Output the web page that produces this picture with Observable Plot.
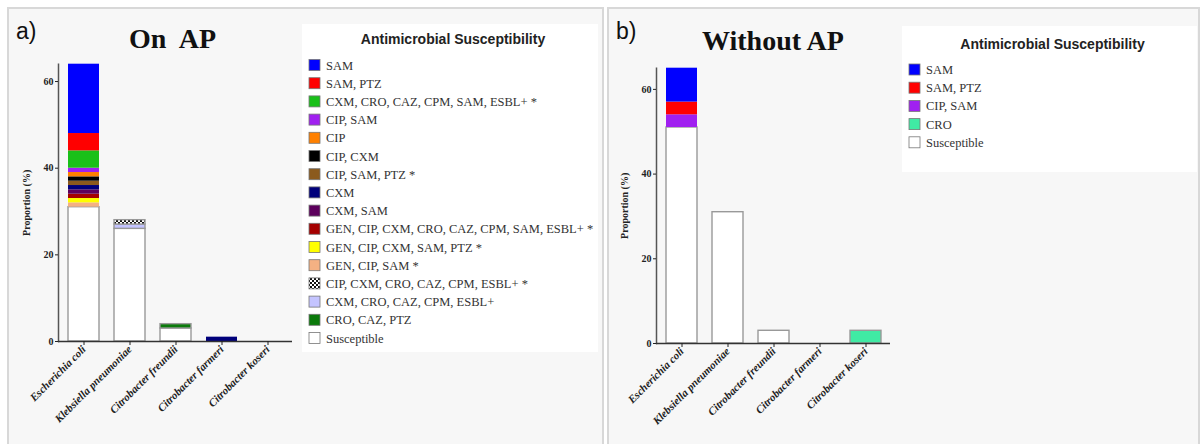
<!DOCTYPE html>
<html><head><meta charset="utf-8">
<script src="https://cdn.jsdelivr.net/npm/d3@7"></script>
<script src="https://cdn.jsdelivr.net/npm/@observablehq/plot@0.6"></script>
<style>
body{margin:0;background:#fff;width:1201px;height:444px;overflow:hidden;position:relative;}
#bg{position:absolute;left:0;top:0;}
.plot{position:absolute;top:0;}
.serif{font-family:"Liberation Serif","Times New Roman",serif;}
.sans{font-family:"Liberation Sans",Arial,sans-serif;}
</style></head><body>
<svg id="bg" width="1201" height="444"></svg>
<div id="pa" class="plot" style="left:0px"></div>
<div id="pb" class="plot" style="left:600px"></div>
<script>
// ---- data ----
const species = ["Escherichia coli", "Klebsiella pneumoniae", "Citrobacter freundii", "Citrobacter farmeri", "Citrobacter koseri"];

// Panel a (On AP) – legend order, top of stack first
const profilesA = [
  "SAM", "SAM, PTZ", "CXM, CRO, CAZ, CPM, SAM, ESBL+ *", "CIP, SAM", "CIP", "CIP, CXM",
  "CIP, SAM, PTZ *", "CXM", "CXM, SAM", "GEN, CIP, CXM, CRO, CAZ, CPM, SAM, ESBL+ *",
  "GEN, CIP, CXM, SAM, PTZ *", "GEN, CIP, SAM *", "CIP, CXM, CRO, CAZ, CPM, ESBL+ *",
  "CXM, CRO, CAZ, CPM, ESBL+", "CRO, CAZ, PTZ", "Susceptible"
];
const colorsA = [
  "#0000ff", "#ff0000", "#19c019", "#a020f0", "#ff8000", "#000000",
  "#8b5a1e", "#00007b", "#5c005c", "#a50000",
  "#ffff00", "#f4b183", "url(#checker)",
  "#c4c4ff", "#0b7a0b", "#ffffff"
];
// values per profile (same order as profilesA), per species
const valuesA = [
  [16, 0, 0, 0, 0],
  [4, 0, 0, 0, 0],
  [4, 0, 0, 0, 0],
  [1, 0, 0, 0, 0],
  [1, 0, 0, 0, 0],
  [1, 0, 0, 0, 0],
  [1, 0, 0, 0, 0],
  [1, 0, 0, 1, 0],
  [1, 0, 0, 0, 0],
  [1, 0, 0, 0, 0],
  [1, 0, 0, 0, 0],
  [1, 0, 0, 0, 0],
  [0, 1, 0, 0, 0],
  [0, 1, 0, 0, 0],
  [0, 0, 1, 0, 0],
  [31, 26, 3, 0, 0]
];

// Panel b (Without AP)
const profilesB = ["SAM", "SAM, PTZ", "CIP, SAM", "CRO", "Susceptible"];
const colorsB = ["#0000ff", "#ff0000", "#a020f0", "#40eaa4", "#ffffff"];
const valuesB = [
  [8, 0, 0, 0, 0],
  [3, 0, 0, 0, 0],
  [3, 0, 0, 0, 0],
  [0, 0, 0, 0, 3],
  [51, 31, 3, 0, 0]
];

const yTicks = [0, 20, 40, 60];
const outlined = new Set(["Susceptible", "CXM, CRO, CAZ, CPM, ESBL+", "CIP, CXM, CRO, CAZ, CPM, ESBL+ *", "CRO, CAZ, PTZ", "CRO"]);

// ---- background, titles, legends ----
const bg = d3.select("#bg");
const defs = bg.append("defs");
const pat = defs.append("pattern").attr("id", "checker").attr("patternUnits", "userSpaceOnUse")
  .attr("width", 4).attr("height", 4);
pat.append("rect").attr("width", 4).attr("height", 4).attr("fill", "#fff");
pat.append("rect").attr("width", 2).attr("height", 2).attr("fill", "#111");
pat.append("rect").attr("x", 2).attr("y", 2).attr("width", 2).attr("height", 2).attr("fill", "#111");

bg.append("rect").attr("x", 8).attr("y", 8).attr("width", 595).attr("height", 450)
  .attr("fill", "#f7f7f7").attr("stroke", "#d8d8d8").attr("stroke-width", 2);
bg.append("rect").attr("x", 608).attr("y", 8).attr("width", 591).attr("height", 450)
  .attr("fill", "#f7f7f7").attr("stroke", "#d8d8d8").attr("stroke-width", 2);

function panelText(tag, tagX, title, titleX, titleY) {
  bg.append("text").attr("class", "sans").attr("x", tagX).attr("y", 39).text(tag)
    .attr("font-size", 23).attr("fill", "#111");
  bg.append("text").attr("class", "serif").attr("x", titleX).attr("y", titleY).text(title)
    .attr("font-size", 28).attr("font-weight", "bold").attr("fill", "#111")
    .style("white-space", "pre");
}
panelText("a)", 16, "On  AP", 129, 48);
panelText("b)", 616, "Without AP", 702, 50);

function legend(x, y, w, h, profiles, colors, firstY) {
  bg.append("rect").attr("x", x).attr("y", y).attr("width", w).attr("height", h).attr("fill", "#fff");
  bg.append("text").attr("class", "sans").attr("x", x + w / 2 + 3).attr("y", firstY - 21)
    .attr("text-anchor", "middle").text("Antimicrobial Susceptibility")
    .attr("font-size", 14).attr("font-weight", "bold").attr("fill", "#222");
  profiles.forEach((p, i) => {
    const cy = firstY + i * 18.2;
    bg.append("rect").attr("x", x + 7).attr("y", cy - 5.5).attr("width", 11).attr("height", 11)
      .attr("fill", colors[i]).attr("stroke", "#777").attr("stroke-width", 0.8);
    bg.append("text").attr("class", "serif").attr("x", x + 24).attr("y", cy + 4.5).text(p)
      .attr("font-size", 12.5).attr("fill", "#333");
  });
}
legend(302, 24, 296, 328, profilesA, colorsA, 65);
legend(902, 26, 295, 146, profilesB, colorsB, 69.5);

// ---- charts ----
function makePlot(el, profiles, colors, values, ymax, m) {
  const table = [];
  for (let p = profiles.length - 1; p >= 0; p--)
    for (let s = 0; s < species.length; s++)
      if (values[p][s] > 0) table.push({species: species[s], profile: profiles[p], value: values[p][s]});
  const chart = Plot.plot({
    width: 300, height: 440,
    marginLeft: m.left, marginRight: m.right, marginTop: m.top, marginBottom: m.bottom,
    style: {background: "transparent", fontFamily: "'Liberation Serif', 'Times New Roman', serif", color: "#222", overflow: "visible"},
    x: {domain: species, paddingInner: 0.333, paddingOuter: 0.17},
    y: {domain: [0, ymax]},
    color: {domain: profiles, range: colors},
    marks: [
      Plot.barY(table, Plot.stackY({
        x: "species", y: "value", fill: "profile", order: null,
        stroke: "#999", strokeWidth: 1.4, strokeOpacity: d => outlined.has(d.profile) ? 1 : 0
      })),
      Plot.frame({anchor: "left", stroke: "#555", strokeWidth: 1.5}),
      Plot.ruleY([0], {stroke: "#333", strokeWidth: 1.5}),
      Plot.axisY({ticks: yTicks, tickSize: 3, tickPadding: 2, fontSize: 10, fontWeight: "bold",
        label: "Proportion (%)", labelAnchor: "center", labelOffset: 36, labelArrow: "none"}),
      Plot.axisX({tickRotate: -45, tickSize: 4, tickPadding: 2, fontSize: 11, fontWeight: "bold",
        fontStyle: "italic", label: null})
    ]
  });
  document.getElementById(el).appendChild(chart);
}
makePlot("pa", profilesA, colorsA, valuesA, 64, {left: 58, right: 8, top: 63.7, bottom: 99});
makePlot("pb", profilesB, colorsB, valuesB, 65, {left: 56, right: 10, top: 67.7, bottom: 97});
</script>
</body></html>
